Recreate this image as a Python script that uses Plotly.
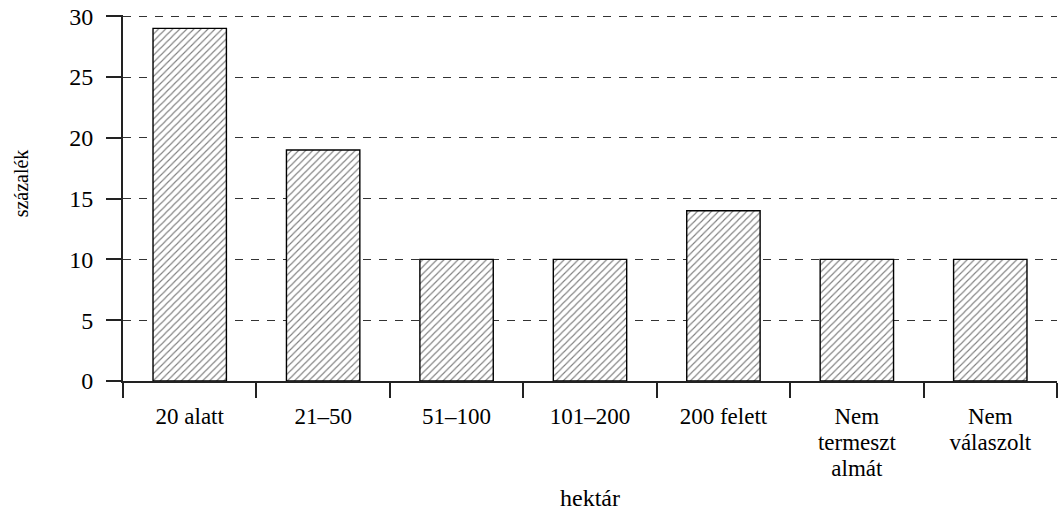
import plotly.graph_objects as go

categories = ["20 alatt", "21–50", "51–100", "101–200", "200 felett",
              "Nem termeszt almát", "Nem válaszolt"]
label_lines = [["20 alatt"], ["21–50"], ["51–100"], ["101–200"], ["200 felett"],
               ["Nem", "termeszt", "almát"], ["Nem", "válaszolt"]]
values = [29, 19, 10, 10, 14, 10, 10]
y_ticks = [0, 5, 10, 15, 20, 25, 30]
x_title = "hektár"
y_title = "százalék"

FONT = "Liberation Serif, Times New Roman, serif"
FS = 24          # y tick / title text size
XFS = 23         # x tick label visible size
LINE_FS = 20     # base size: plotly line step 1.3em -> 26px


def multiline(lines):
    return "<br>".join(f"<span style='font-size:{XFS}px'>{ln}</span>" for ln in lines)


tick_text = [multiline(lines) for lines in label_lines]

fig = go.Figure(go.Bar(
    x=categories,
    y=values,
    width=0.55,
    marker=dict(
        color="white",
        line=dict(color="black", width=1.4),
        pattern=dict(shape="/", fgcolor="black", bgcolor="white", size=5, solidity=0.22),
    ),
    hoverinfo="skip",
))

fig.update_layout(
    width=1061, height=511,
    margin=dict(l=123, r=4, t=15, b=130),
    paper_bgcolor="white", plot_bgcolor="white",
    font=dict(family=FONT, size=FS, color="black"),
    showlegend=False,
)

fig.update_xaxes(
    type="category",
    tickson="boundaries",
    tickmode="array", tickvals=categories, ticktext=tick_text,
    ticks="outside", ticklen=15, tickwidth=2, tickcolor="#222",
    showline=True, linewidth=2, linecolor="#222",
    showgrid=False,
    tickfont=dict(family=FONT, size=LINE_FS, color="black"),
    ticklabelstandoff=17,
    automargin=False,
)

fig.update_yaxes(
    range=[0, 30.1],
    tickvals=y_ticks,
    ticks="outside", ticklen=15, tickwidth=2, tickcolor="#222",
    showline=True, linewidth=2, linecolor="#222",
    showgrid=True, gridcolor="#333", gridwidth=1.2, griddash="8px,8px",
    zeroline=False,
    tickfont=dict(family=FONT, size=FS),
    ticklabelstandoff=8,
    automargin=False,
)

fig.add_annotation(
    x=0.5, xref="paper", y=0, yref="paper",
    text=x_title, showarrow=False,
    xanchor="center", yanchor="middle", yshift=-117,
    font=dict(family=FONT, size=FS, color="black"),
)
fig.add_annotation(
    x=0, xref="paper", y=0.54, yref="paper",
    text=y_title, showarrow=False, textangle=-90,
    xanchor="center", yanchor="middle", xshift=-102,
    font=dict(family=FONT, size=20, color="black"),
)

fig.write_html("out.html", config={"displayModeBar": False},
               post_script="document.body.style.margin='0px';")
